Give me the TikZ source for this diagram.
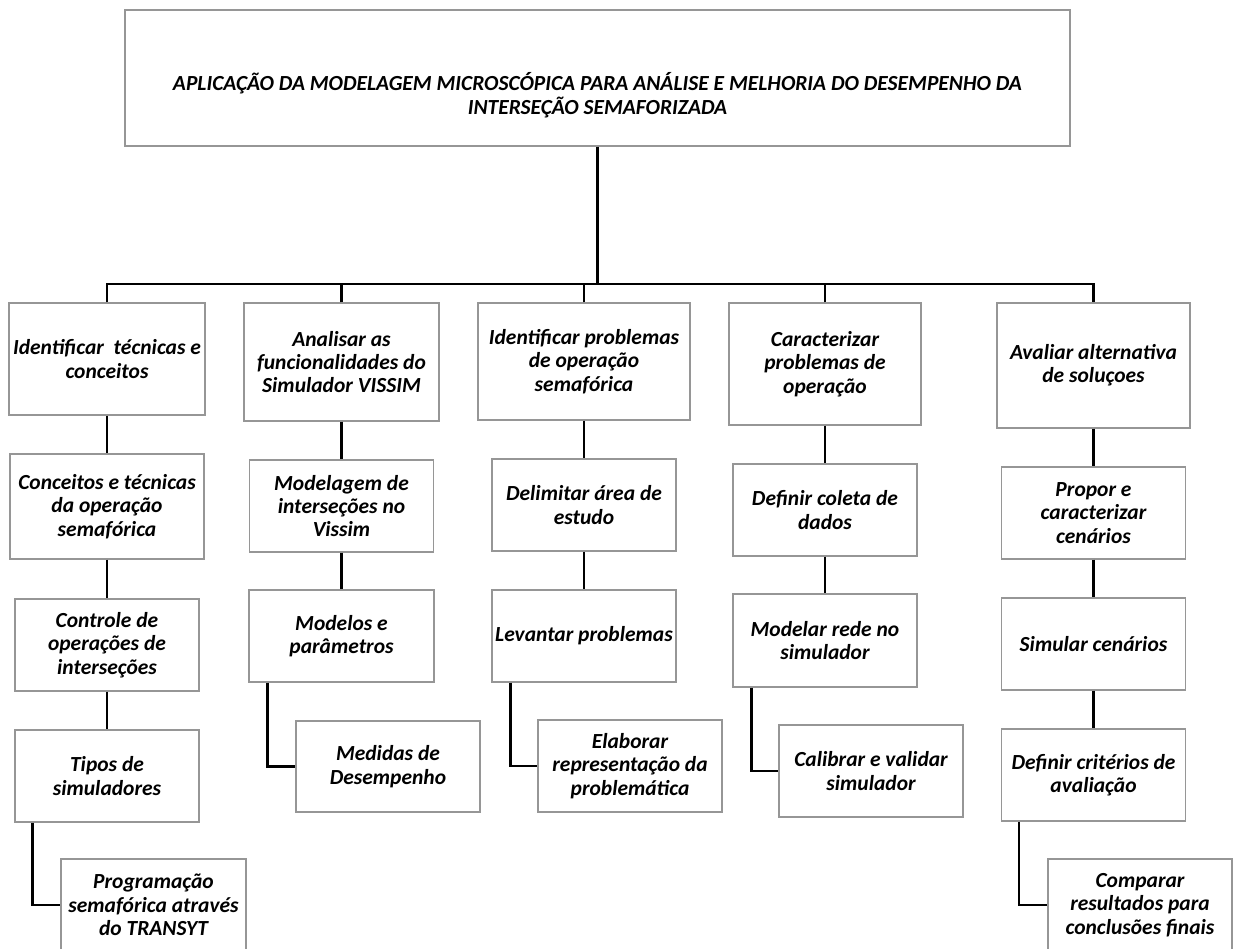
\documentclass[tikz,border=0pt]{standalone}
\usepackage{fontspec}
\setmainfont{Carlito}
\usetikzlibrary{calc}
\definecolor{boxgray}{RGB}{150,150,150}
\tikzset{
  box/.style={draw=boxgray, line width=1.4pt, fill=white, align=center, inner sep=0pt,
    font=\bfseries\itshape\fontsize{21.5}{23.3}\selectfont},
  link/.style={draw=black, line width=2.6pt},
  titletext/.style={align=center, inner sep=0pt, font=\bfseries\itshape\fontsize{21.5}{24}\selectfont},
}
\begin{document}
\begin{tikzpicture}[x=1pt,y=-1pt]
\useasboundingbox (0,0) rectangle (1235,949);
\clip (0,0) rectangle (1235,949);
% top
\node[box, minimum width=945, minimum height=136] (top) at (597.5,78) {};
\node[titletext] (title) at (597.5,95) {APLICAÇÃO DA MODELAGEM MICROSCÓPICA PARA ANÁLISE E MELHORIA DO DESEMPENHO DA\\INTERSEÇÃO SEMAFORIZADA};
\coordinate (hub) at (597.5,284);
% column 1
\node[box, minimum width=196, minimum height=112] (c1a) at (107,359) {Identificar\ \ técnicas e\\conceitos};
\node[box, minimum width=194, minimum height=105] (c1b) at (107,506.5) {Conceitos e técnicas\\da operação\\semafórica};
\node[box, minimum width=184, minimum height=92] (c1c) at (107,645) {Controle de\\operações de\\interseções};
\node[box, minimum width=184, minimum height=92] (c1d) at (107,776) {Tipos de\\simuladores};
\node[box, minimum width=185, minimum height=92] (c1e) at (153.5,905) {Programação\\semafórica através\\do TRANSYT};
% column 2
\node[box, minimum width=195, minimum height=118] (c2a) at (341.5,362) {Analisar as\\funcionalidades do\\Simulador VISSIM};
\node[box, minimum width=184, minimum height=92] (c2b) at (341.5,506) {Modelagem de\\interseções no\\Vissim};
\node[box, minimum width=185, minimum height=92] (c2c) at (341.5,636) {Modelos e\\parâmetros};
\node[box, minimum width=184, minimum height=91] (c2d) at (388,766.5) {Medidas de\\Desempenho};
% column 3
\node[box, minimum width=212, minimum height=117] (c3a) at (584,361.5) {Identificar problemas\\de operação\\semafórica};
\node[box, minimum width=184, minimum height=92] (c3b) at (584,505) {Delimitar área de\\estudo};
\node[box, minimum width=184, minimum height=92] (c3c) at (584,636) {Levantar problemas};
\node[box, minimum width=184, minimum height=92] (c3d) at (630,766) {Elaborar\\representação da\\problemática};
% column 4
\node[box, minimum width=192, minimum height=122] (c4a) at (825,364) {Caracterizar\\problemas de\\operação};
\node[box, minimum width=184, minimum height=92] (c4b) at (825,510) {Definir coleta de\\dados};
\node[box, minimum width=184, minimum height=93] (c4c) at (825,640.5) {Modelar rede no\\simulador};
\node[box, minimum width=184, minimum height=92] (c4d) at (871,771) {Calibrar e validar\\simulador};
% column 5
\node[box, minimum width=193, minimum height=125] (c5a) at (1093.5,365.5) {Avaliar alternativa\\de soluçoes};
\node[box, minimum width=184, minimum height=92] (c5b) at (1093.5,513) {Propor e\\caracterizar\\cenários};
\node[box, minimum width=184, minimum height=92] (c5c) at (1093.5,644) {Simular cenários};
\node[box, minimum width=184, minimum height=92] (c5d) at (1093.5,775) {Definir critérios de\\avaliação};
\node[box, minimum width=184, minimum height=92] (c5e) at (1140,905) {Comparar\\resultados para\\conclusões finais};
% connectors
\draw[link] (top.south) -- (hub);
\draw[link] (c1a.north) -- (c1a.north |- hub) -- (c5a.north |- hub) -- (c5a.north);
\draw[link] (c2a.north) -- (c2a.north |- hub);
\draw[link] (c3a.north) -- (c3a.north |- hub);
\draw[link] (c4a.north) -- (c4a.north |- hub);
\foreach \c in {1,2,3,4,5} {
  \draw[link] (c\c a.south) -- (c\c b.north);
  \draw[link] (c\c b.south) -- (c\c c.north);
}
\draw[link] (c1c.south) -- (c1d.north);
\draw[link] (c5c.south) -- (c5d.north);
\draw[link] ($(c1d.south west)+(18,0)$) |- (c1e.west);
\draw[link] ($(c2c.south west)+(19,0)$) |- (c2d.west);
\draw[link] ($(c3c.south west)+(19,0)$) |- (c3d.west);
\draw[link] ($(c4c.south west)+(19,0)$) |- (c4d.west);
\draw[link] ($(c5d.south west)+(18,0)$) |- (c5e.west);
\end{tikzpicture}
\end{document}
